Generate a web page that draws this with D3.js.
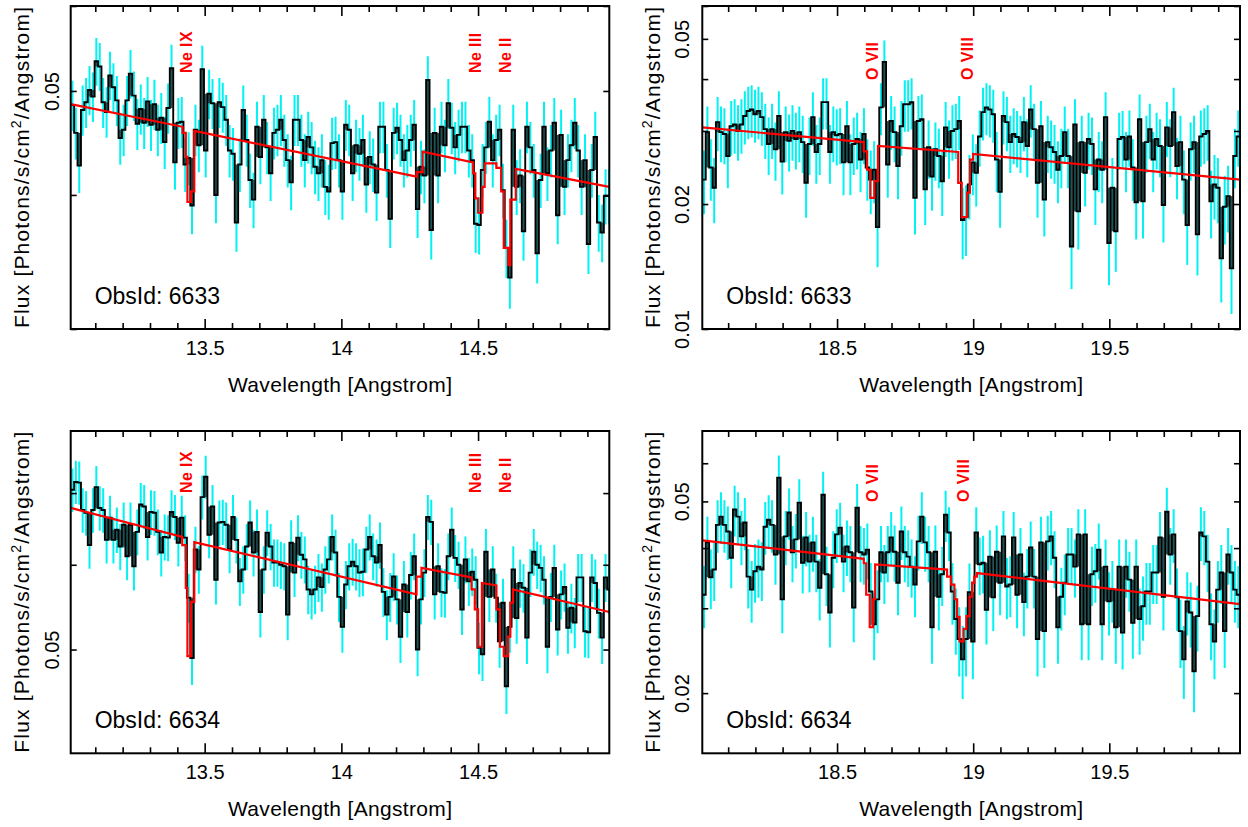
<!DOCTYPE html>
<html>
<head>
<meta charset="utf-8">
<script src="https://cdn.jsdelivr.net/npm/d3@7"></script>
<style>
  html, body { margin: 0; padding: 0; background: #fff; }
  svg { display: block; font-family: "Liberation Sans", Arial, Helvetica, sans-serif; }
</style>
</head>
<body>
<svg id="chart" width="1248" height="827"></svg>
<script>
// ---- Spectral data: fluxes per 0.0125 Angstrom bin (photons/s/cm^2/Angstrom) ----
const binWidth = 0.0125;
const neBandStart = 13.01;   // first bin edge, Ne band
const oBandStart = 18.005;   // first bin edge, O band

const fluxObs6633Ne = [
  0.0485, 0.0457, 0.0426, 0.0480, 0.0488, 0.0501, 0.0494, 0.0533, 0.0527, 0.0488,
  0.0478, 0.0517, 0.0504, 0.0490, 0.0452, 0.0460, 0.0490, 0.0519, 0.0495, 0.0466,
  0.0481, 0.0467, 0.0489, 0.0465, 0.0486, 0.0460, 0.0472, 0.0448, 0.0482, 0.0525,
  0.0429, 0.0467, 0.0468, 0.0427, 0.0433, 0.0391, 0.0460, 0.0445, 0.0524, 0.0440,
  0.0497, 0.0487, 0.0400, 0.0488, 0.0483, 0.0470, 0.0440, 0.0437, 0.0377, 0.0427,
  0.0480, 0.0450, 0.0413, 0.0396, 0.0463, 0.0434, 0.0470, 0.0443, 0.0419, 0.0457,
  0.0460, 0.0470, 0.0450, 0.0431, 0.0411, 0.0470, 0.0470, 0.0450, 0.0431, 0.0453,
  0.0443, 0.0425, 0.0419, 0.0431, 0.0407, 0.0403, 0.0447, 0.0448, 0.0431, 0.0403,
  0.0465, 0.0460, 0.0419, 0.0445, 0.0437, 0.0450, 0.0409, 0.0434, 0.0427, 0.0402,
  0.0463, 0.0463, 0.0422, 0.0380, 0.0457, 0.0462, 0.0450, 0.0431, 0.0440, 0.0450,
  0.0465, 0.0388, 0.0425, 0.0417, 0.0512, 0.0371, 0.0457, 0.0417, 0.0463, 0.0445,
  0.0487, 0.0462, 0.0443, 0.0455, 0.0463, 0.0463, 0.0440, 0.0431, 0.0376, 0.0375,
  0.0422, 0.0443, 0.0468, 0.0431, 0.0450, 0.0460, 0.0404, 0.0357, 0.0335, 0.0460,
  0.0407, 0.0417, 0.0370, 0.0463, 0.0443, 0.0422, 0.0353, 0.0413, 0.0463, 0.0419,
  0.0440, 0.0467, 0.0383, 0.0455, 0.0407, 0.0431, 0.0445, 0.0467, 0.0440, 0.0407,
  0.0431, 0.0360, 0.0422, 0.0453, 0.0377, 0.0369, 0.0399, 0.0399
];

const fluxObs6633O = [
  0.0229, 0.0298, 0.0245, 0.0219, 0.0315, 0.0298, 0.0295, 0.0261, 0.0308, 0.0311,
  0.0300, 0.0311, 0.0326, 0.0335, 0.0338, 0.0329, 0.0335, 0.0324, 0.0303, 0.0279,
  0.0303, 0.0271, 0.0326, 0.0253, 0.0298, 0.0284, 0.0300, 0.0287, 0.0298, 0.0282,
  0.0225, 0.0279, 0.0324, 0.0267, 0.0279, 0.0352, 0.0352, 0.0267, 0.0298, 0.0293,
  0.0295, 0.0252, 0.0308, 0.0252, 0.0279, 0.0287, 0.0256, 0.0295, 0.0245, 0.0229,
  0.0242, 0.0176, 0.0342, 0.0440, 0.0249, 0.0317, 0.0298, 0.0247, 0.0308, 0.0348,
  0.0348, 0.0352, 0.0207, 0.0317, 0.0320, 0.0217, 0.0274, 0.0233, 0.0271, 0.0261,
  0.0227, 0.0306, 0.0274, 0.0300, 0.0303, 0.0317, 0.0183, 0.0186, 0.0223, 0.0252,
  0.0238, 0.0291, 0.0333, 0.0342, 0.0338, 0.0329, 0.0256, 0.0214, 0.0326, 0.0315,
  0.0282, 0.0295, 0.0290, 0.0282, 0.0315, 0.0276, 0.0338, 0.0303, 0.0225, 0.0308,
  0.0205, 0.0282, 0.0274, 0.0267, 0.0242, 0.0261, 0.0298, 0.0261, 0.0158, 0.0311,
  0.0192, 0.0282, 0.0238, 0.0287, 0.0279, 0.0217, 0.0256, 0.0242, 0.0324, 0.0161,
  0.0219, 0.0172, 0.0287, 0.0290, 0.0256, 0.0291, 0.0245, 0.0202, 0.0320, 0.0203,
  0.0282, 0.0303, 0.0256, 0.0287, 0.0276, 0.0199, 0.0306, 0.0276, 0.0333, 0.0247,
  0.0282, 0.0229, 0.0178, 0.0271, 0.0282, 0.0169, 0.0291, 0.0295, 0.0300, 0.0203,
  0.0223, 0.0219, 0.0148, 0.0197, 0.0209, 0.0140, 0.0261, 0.0291
];

const fluxObs6634Ne = [
  0.0705, 0.0717, 0.0716, 0.0675, 0.0671, 0.0626, 0.0675, 0.0709, 0.0678, 0.0675,
  0.0633, 0.0664, 0.0633, 0.0647, 0.0624, 0.0654, 0.0611, 0.0654, 0.0598, 0.0644,
  0.0683, 0.0680, 0.0637, 0.0672, 0.0671, 0.0644, 0.0616, 0.0637, 0.0636, 0.0672,
  0.0665, 0.0629, 0.0664, 0.0636, 0.0559, 0.0491, 0.0620, 0.0594, 0.0694, 0.0725,
  0.0640, 0.0680, 0.0581, 0.0657, 0.0658, 0.0654, 0.0620, 0.0665, 0.0633, 0.0579,
  0.0594, 0.0624, 0.0657, 0.0616, 0.0644, 0.0542, 0.0594, 0.0643, 0.0624, 0.0603,
  0.0603, 0.0600, 0.0598, 0.0539, 0.0629, 0.0590, 0.0636, 0.0613, 0.0607, 0.0569,
  0.0563, 0.0569, 0.0584, 0.0572, 0.0594, 0.0607, 0.0637, 0.0616, 0.0560, 0.0525,
  0.0575, 0.0598, 0.0604, 0.0598, 0.0590, 0.0591, 0.0620, 0.0637, 0.0611, 0.0603,
  0.0626, 0.0566, 0.0539, 0.0560, 0.0585, 0.0557, 0.0514, 0.0575, 0.0542, 0.0587,
  0.0611, 0.0500, 0.0557, 0.0590, 0.0665, 0.0658, 0.0563, 0.0598, 0.0566, 0.0565,
  0.0611, 0.0647, 0.0609, 0.0600, 0.0545, 0.0607, 0.0579, 0.0591, 0.0581, 0.0502,
  0.0495, 0.0617, 0.0560, 0.0594, 0.0559, 0.0509, 0.0553, 0.0462, 0.0525, 0.0594,
  0.0535, 0.0577, 0.0571, 0.0513, 0.0590, 0.0617, 0.0600, 0.0596, 0.0581, 0.0503,
  0.0560, 0.0596, 0.0522, 0.0563, 0.0572, 0.0524, 0.0547, 0.0530, 0.0584, 0.0584,
  0.0520, 0.0519, 0.0584, 0.0577, 0.0541, 0.0513, 0.0584, 0.0569
];

const fluxObs6634O = [
  0.0320, 0.0411, 0.0348, 0.0361, 0.0447, 0.0465, 0.0447, 0.0433, 0.0382, 0.0481,
  0.0465, 0.0423, 0.0452, 0.0349, 0.0328, 0.0358, 0.0366, 0.0361, 0.0443, 0.0458,
  0.0447, 0.0388, 0.0560, 0.0313, 0.0423, 0.0474, 0.0392, 0.0417, 0.0497, 0.0373,
  0.0421, 0.0375, 0.0411, 0.0375, 0.0331, 0.0516, 0.0353, 0.0294, 0.0382, 0.0427,
  0.0441, 0.0375, 0.0403, 0.0392, 0.0301, 0.0485, 0.0392, 0.0388, 0.0397, 0.0325,
  0.0278, 0.0313, 0.0392, 0.0356, 0.0392, 0.0421, 0.0393, 0.0339, 0.0433, 0.0392,
  0.0384, 0.0366, 0.0336, 0.0413, 0.0465, 0.0411, 0.0392, 0.0274, 0.0393, 0.0317,
  0.0353, 0.0469, 0.0431, 0.0325, 0.0285, 0.0259, 0.0235, 0.0259, 0.0324, 0.0256,
  0.0431, 0.0370, 0.0373, 0.0298, 0.0384, 0.0316, 0.0393, 0.0339, 0.0423, 0.0333,
  0.0336, 0.0421, 0.0320, 0.0388, 0.0309, 0.0349, 0.0401, 0.0349, 0.0259, 0.0411,
  0.0269, 0.0413, 0.0423, 0.0382, 0.0274, 0.0317, 0.0339, 0.0388, 0.0388, 0.0366,
  0.0427, 0.0278, 0.0427, 0.0278, 0.0353, 0.0358, 0.0397, 0.0278, 0.0366, 0.0310,
  0.0328, 0.0274, 0.0366, 0.0267, 0.0366, 0.0344, 0.0280, 0.0366, 0.0285, 0.0303,
  0.0325, 0.0325, 0.0356, 0.0356, 0.0421, 0.0317, 0.0476, 0.0388, 0.0427, 0.0316,
  0.0269, 0.0235, 0.0310, 0.0294, 0.0222, 0.0289, 0.0431, 0.0423, 0.0375, 0.0278,
  0.0256, 0.0328, 0.0356, 0.0269, 0.0388, 0.0356, 0.0328, 0.0320
];

// Flux per detected count in each spectrum (sets the Poisson error bars)
const fluxPerCount6633Ne = 1.40e-4;
const fluxPerCount6633O  = 7.0e-4;
const fluxPerCount6634Ne = 1.55e-4;
const fluxPerCount6634O  = 7.0e-4;

// ---- Best-fit absorption model: vertices of the (binned) model curve ----
const modelWave6633Ne = [13.010, 13.419, 13.419, 13.431, 13.431, 13.437, 13.437, 13.450, 13.450, 13.462,
  13.462, 14.275, 14.275, 14.297, 14.297, 14.482, 14.482, 14.490, 14.490, 14.500, 14.500, 14.516, 14.516,
  14.524, 14.524, 14.567, 14.567, 14.585, 14.585, 14.594, 14.594, 14.610, 14.610, 14.618, 14.618, 14.638,
  14.638, 14.980];
const modelFlux6633Ne = [0.0486, 0.0463, 0.0457, 0.0457, 0.0434, 0.0434, 0.0394, 0.0394, 0.0403, 0.0403,
  0.0459, 0.0416, 0.0420, 0.0420, 0.0439, 0.0429, 0.0419, 0.0419, 0.0397, 0.0397, 0.0385, 0.0385, 0.0407,
  0.0407, 0.0428, 0.0428, 0.0424, 0.0424, 0.0403, 0.0403, 0.0357, 0.0357, 0.0344, 0.0344, 0.0396, 0.0396,
  0.0423, 0.0407];

const modelWave6633O = [18.005, 18.598, 18.598, 18.610, 18.610, 18.622, 18.622, 18.637, 18.637, 18.650,
  18.650, 18.945, 18.945, 18.958, 18.958, 18.978, 18.978, 18.988, 18.988, 19.000, 19.000, 19.980];
const modelFlux6633O = [0.0306, 0.0282, 0.0268, 0.0268, 0.0242, 0.0242, 0.0207, 0.0207, 0.0227, 0.0227,
  0.0276, 0.0267, 0.0225, 0.0225, 0.0186, 0.0186, 0.0213, 0.0213, 0.0256, 0.0256, 0.0264, 0.0229];

const modelWave6634Ne = [13.010, 13.418, 13.418, 13.431, 13.431, 13.437, 13.437, 13.450, 13.450, 13.462,
  13.462, 14.275, 14.275, 14.293, 14.293, 14.476, 14.476, 14.488, 14.488, 14.500, 14.500, 14.514, 14.514,
  14.567, 14.567, 14.580, 14.580, 14.594, 14.594, 14.610, 14.610, 14.618, 14.618, 14.628, 14.628, 14.980];
const modelFlux6634Ne = [0.0678, 0.0637, 0.0626, 0.0626, 0.0571, 0.0571, 0.0493, 0.0493, 0.0554, 0.0554,
  0.0630, 0.0563, 0.0585, 0.0585, 0.0596, 0.0584, 0.0569, 0.0569, 0.0545, 0.0545, 0.0503, 0.0503, 0.0577,
  0.0574, 0.0545, 0.0545, 0.0503, 0.0503, 0.0493, 0.0493, 0.0514, 0.0514, 0.0553, 0.0553, 0.0569, 0.0542];

const modelWave6634O = [18.005, 18.598, 18.598, 18.607, 18.607, 18.620, 18.620, 18.632, 18.632, 18.640,
  18.640, 18.904, 18.904, 18.919, 18.919, 18.931, 18.931, 18.941, 18.941, 18.950, 18.950, 18.965, 18.965,
  18.975, 18.975, 18.987, 18.987, 18.996, 18.996, 19.004, 19.004, 19.014, 19.014, 19.980];
const modelFlux6634O = [0.0415, 0.0380, 0.0372, 0.0372, 0.0320, 0.0320, 0.0274, 0.0274, 0.0313, 0.0313,
  0.0370, 0.0361, 0.0349, 0.0349, 0.0336, 0.0336, 0.0313, 0.0313, 0.0288, 0.0288, 0.0256, 0.0256, 0.0272,
  0.0272, 0.0289, 0.0289, 0.0317, 0.0317, 0.0339, 0.0339, 0.0349, 0.0349, 0.0355, 0.0306];

// ---- Line identifications ----
const neLineNames = ["Ne IX", "Ne III", "Ne II"];
const neLineLabelWave = [13.433, 14.490, 14.600];
const oLineNames = ["O VII", "O VIII"];
const oLineLabelWave6633 = [18.630, 18.978];
const oLineLabelWave6634 = [18.630, 18.962];

// ---- Axis ranges and ticks ----
const neWaveRange = [13.01, 14.98];
const oWaveRange = [18.005, 19.98];
const neMajorTicks = [13.5, 14, 14.5];
const neMinorTicks = [13.1, 13.2, 13.3, 13.4, 13.6, 13.7, 13.8, 13.9, 14.1, 14.2, 14.3, 14.4, 14.6, 14.7, 14.8, 14.9];
const oMajorTicks = [18.5, 19, 19.5];
const oMinorTicks = [18.1, 18.2, 18.3, 18.4, 18.6, 18.7, 18.8, 18.9, 19.1, 19.2, 19.3, 19.4, 19.6, 19.7, 19.8, 19.9];

const fluxRange6633Ne = [0.03, 0.06];
const fluxRange6633O = [0.01, 0.06];
const fluxRange6634Ne = [0.04, 0.08];
const fluxRange6634O = [0.015, 0.07];
const fluxTicks6633Ne = [0.03, 0.04, 0.05, 0.06];
const fluxTicks6633O = [0.01, 0.02, 0.03, 0.04, 0.05, 0.06];
const fluxTicks6634Ne = [0.05, 0.06, 0.07];
const fluxTicks6634O = [0.02, 0.03, 0.04, 0.05, 0.06];
const fluxLabels6633Ne = ["0.05"];
const fluxLabels6633O = ["0.01", "0.02", "0.05"];
const fluxLabels6634Ne = ["0.05"];
const fluxLabels6634O = ["0.02", "0.05"];

// ---- Layout ----
const colX = [[70.7, 609.3], [702.3, 1240]];
const rowY = [[6, 329], [431, 753.3]];

const panels = [
  { obs: "6633", col: 0, row: 0, start: neBandStart, flux: fluxObs6633Ne, perCount: fluxPerCount6633Ne,
    mWave: modelWave6633Ne, mFlux: modelFlux6633Ne, xr: neWaveRange, yr: fluxRange6633Ne,
    major: neMajorTicks, minor: neMinorTicks, yt: fluxTicks6633Ne, yl: fluxLabels6633Ne,
    names: neLineNames, lw: neLineLabelWave, labelTop: 67, ylabOff: 12.2 },
  { obs: "6633", col: 1, row: 0, start: oBandStart, flux: fluxObs6633O, perCount: fluxPerCount6633O,
    mWave: modelWave6633O, mFlux: modelFlux6633O, xr: oWaveRange, yr: fluxRange6633O,
    major: oMajorTicks, minor: oMinorTicks, yt: fluxTicks6633O, yl: fluxLabels6633O,
    names: oLineNames, lw: oLineLabelWave6633, labelTop: 74, ylabOff: 13.8 },
  { obs: "6634", col: 0, row: 1, start: neBandStart, flux: fluxObs6634Ne, perCount: fluxPerCount6634Ne,
    mWave: modelWave6634Ne, mFlux: modelFlux6634Ne, xr: neWaveRange, yr: fluxRange6634Ne,
    major: neMajorTicks, minor: neMinorTicks, yt: fluxTicks6634Ne, yl: fluxLabels6634Ne,
    names: neLineNames, lw: neLineLabelWave, labelTop: 62, ylabOff: 12.2 },
  { obs: "6634", col: 1, row: 1, start: oBandStart, flux: fluxObs6634O, perCount: fluxPerCount6634O,
    mWave: modelWave6634O, mFlux: modelFlux6634O, xr: oWaveRange, yr: fluxRange6634O,
    major: oMajorTicks, minor: oMinorTicks, yt: fluxTicks6634O, yl: fluxLabels6634O,
    names: oLineNames, lw: oLineLabelWave6634, labelTop: 71, ylabOff: 13.8 }
];

const svg = d3.select("#chart");
const FONT = '"Liberation Sans", Arial, Helvetica, sans-serif';

panels.forEach((p, k) => {
  const [x0, x1] = colX[p.col];
  const [y0, y1] = rowY[p.row];
  const x = d3.scaleLinear().domain(p.xr).range([x0, x1]);
  const y = d3.scaleLog().domain(p.yr).range([y1, y0]);

  const clipId = "clip" + k;
  svg.append("clipPath").attr("id", clipId)
    .append("rect").attr("x", x0).attr("y", y0).attr("width", x1 - x0).attr("height", y1 - y0);

  const plot = svg.append("g").attr("clip-path", `url(#${clipId})`);

  const bins = p.flux.map((f, i) => {
    const lo = p.start + i * binWidth;
    const sigma = Math.sqrt(f * p.perCount);
    return { lo, hi: lo + binWidth, mid: lo + binWidth / 2, f, sigma,
             prev: i > 0 ? p.flux[i - 1] : f, next: i < p.flux.length - 1 ? p.flux[i + 1] : f };
  });

  // error bars
  plot.append("g").selectAll("line").data(bins).join("line")
    .attr("x1", d => x(d.mid)).attr("x2", d => x(d.mid))
    .attr("y1", d => y(d.f + d.sigma)).attr("y2", d => y(d.f - d.sigma))
    .attr("stroke", "#00f2f2").attr("stroke-width", 2);

  // narrow single-bin spikes and troughs appear filled between their edges
  const spikes = bins.filter(d => (d.f > d.prev && d.f > d.next) || (d.f < d.prev && d.f < d.next));
  plot.append("g").selectAll("rect").data(spikes).join("rect")
    .attr("x", d => x(d.lo) + 0.6)
    .attr("width", d => Math.max(0, x(d.hi) - x(d.lo) - 1.2))
    .attr("y", d => d.f > d.prev ? y(d.f) : y(Math.min(d.prev, d.next)))
    .attr("height", d => d.f > d.prev ? y(Math.max(d.prev, d.next)) - y(d.f)
                                       : y(d.f) - y(Math.min(d.prev, d.next)))
    .attr("fill", "#1f5557");

  // histogram of the data
  const stepPts = bins.flatMap(d => [[d.lo, d.f], [d.hi, d.f]]);
  plot.append("path")
    .attr("d", d3.line().x(d => x(d[0])).y(d => y(d[1]))(stepPts))
    .attr("fill", "none").attr("stroke", "#000").attr("stroke-width", 1.9);

  // model
  const modelPts = p.mWave.map((w, i) => [w, p.mFlux[i]]);
  plot.append("path")
    .attr("d", d3.line().x(d => x(d[0])).y(d => y(d[1]))(modelPts))
    .attr("fill", "none").attr("stroke", "#ff0000").attr("stroke-width", 2.2)
    .attr("stroke-linejoin", "miter");

  // axes (ticks point inward)
  const styleAxis = g => {
    g.select(".domain").remove();
    g.selectAll(".tick line").attr("stroke", "#000").attr("stroke-width", 1.6);
  };
  svg.append("g").attr("transform", `translate(0,${y1})`)
    .call(d3.axisBottom(x).tickValues(p.major).tickSize(-10).tickPadding(11.5).tickFormat(d3.format("~g")))
    .call(styleAxis)
    .call(g => g.selectAll("text").attr("font-size", 20).attr("font-family", FONT).attr("fill", "#000"));
  svg.append("g").attr("transform", `translate(0,${y1})`)
    .call(d3.axisBottom(x).tickValues(p.minor).tickSize(-6).tickFormat(""))
    .call(styleAxis);
  svg.append("g").attr("transform", `translate(0,${y0})`)
    .call(d3.axisTop(x).tickValues(p.major).tickSize(-10).tickFormat(""))
    .call(styleAxis);
  svg.append("g").attr("transform", `translate(0,${y0})`)
    .call(d3.axisTop(x).tickValues(p.minor).tickSize(-6).tickFormat(""))
    .call(styleAxis);

  const yFmt = v => {
    const s = d3.format(".2f")(v);
    return p.yl.includes(s) ? s : "";
  };
  svg.append("g").attr("transform", `translate(${x0},0)`)
    .call(d3.axisLeft(y).tickValues(p.yt).tickSize(-6).tickFormat(yFmt))
    .call(styleAxis)
    .call(g => g.selectAll("text")
      .attr("transform", "rotate(-90)")
      .attr("x", 0).attr("y", -p.ylabOff).attr("dy", 0)
      .attr("text-anchor", "middle")
      .attr("font-size", 20).attr("font-family", FONT).attr("fill", "#000"));
  svg.append("g").attr("transform", `translate(${x1},0)`)
    .call(d3.axisRight(y).tickValues(p.yt).tickSize(-6).tickFormat(""))
    .call(styleAxis);

  // frame
  svg.append("rect").attr("x", x0).attr("y", y0).attr("width", x1 - x0).attr("height", y1 - y0)
    .attr("fill", "none").attr("stroke", "#000").attr("stroke-width", 2);

  // line identifications
  svg.append("g").selectAll("text").data(p.names).join("text")
    .attr("transform", (d, i) => `translate(${x(p.lw[i])},${y0 + p.labelTop}) rotate(-90)`)
    .attr("dy", "0.36em")
    .attr("font-size", 16).attr("font-weight", "bold").attr("fill", "#ff0000")
    .attr("letter-spacing", 0.4)
    .text(d => d);

  // observation id
  svg.append("text").attr("x", x0 + 24).attr("y", y1 - 25.5)
    .attr("font-size", 23).attr("fill", "#000").text("ObsId: " + p.obs);

  // axis titles
  svg.append("text").attr("x", (x0 + x1) / 2).attr("y", y1 + 63)
    .attr("text-anchor", "middle").attr("font-size", 21).attr("fill", "#000")
    .attr("textLength", 224).attr("lengthAdjust", "spacing")
    .text("Wavelength [Angstrom]");

  const yt = svg.append("text")
    .attr("transform", `translate(${x0 - 42},${(y0 + y1) / 2}) rotate(-90)`)
    .attr("text-anchor", "middle").attr("font-size", 21).attr("fill", "#000")
    .attr("textLength", 321).attr("lengthAdjust", "spacing");
  yt.append("tspan").text("Flux [Photons/s/cm");
  yt.append("tspan").attr("dy", -8).attr("font-size", 14).text("2");
  yt.append("tspan").attr("dy", 8).text("/Angstrom]");
});
</script>
</body>
</html>
